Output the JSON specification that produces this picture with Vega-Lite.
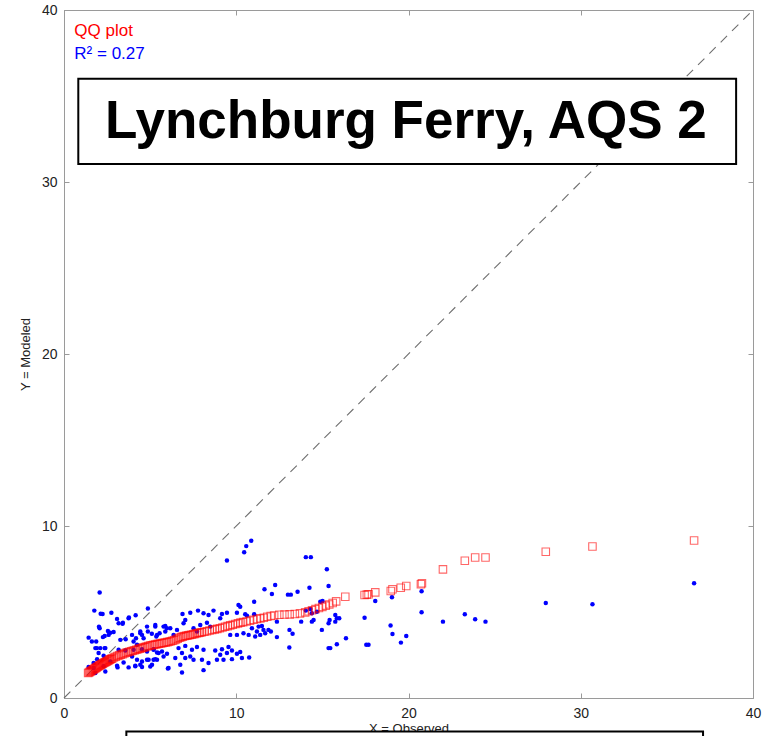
{
  "$schema": "https://vega.github.io/schema/vega-lite/v6.json",
  "width": 689,
  "height": 688,
  "autosize": {"type": "none"},
  "padding": {"left": 64, "top": 10, "right": 23, "bottom": 38},
  "background": "white",
  "config": {"view": {"stroke": "#9a9a9a", "strokeWidth": 1}, "font": "Liberation Sans"},
  "data": {"values": [{"note": "annotation"}]},
  "datasets": {
    "pairs": [
      {"observed":2.07,"modeled":6.14},{"observed":1.76,"modeled":5.08},{"observed":2.13,"modeled":4.9},{"observed":2.24,"modeled":4.89},{"observed":2.75,"modeled":4.96},{"observed":3.08,"modeled":4.6},{"observed":3.17,"modeled":4.35},{"observed":3.75,"modeled":4.64},{"observed":3.42,"modeled":4.38},{"observed":2.07,"modeled":4.06},{"observed":2.55,"modeled":3.9},{"observed":2.69,"modeled":3.8},{"observed":2.88,"modeled":3.84},{"observed":2.36,"modeled":3.61},{"observed":2.26,"modeled":3.54},{"observed":2.59,"modeled":3.67},{"observed":1.43,"modeled":3.51},{"observed":1.62,"modeled":3.28},{"observed":1.87,"modeled":3.28},{"observed":3.27,"modeled":3.38},{"observed":3.58,"modeled":3.42},{"observed":3.95,"modeled":3.67},{"observed":4.43,"modeled":3.86},{"observed":4.53,"modeled":3.67},{"observed":4.62,"modeled":3.48},{"observed":4.87,"modeled":3.86},{"observed":5.1,"modeled":3.73},{"observed":5.36,"modeled":3.57},{"observed":1.82,"modeled":2.9},{"observed":2.11,"modeled":2.9},{"observed":2.36,"modeled":2.9},{"observed":2.01,"modeled":2.61},{"observed":2.3,"modeled":2.45},{"observed":3.17,"modeled":2.8},{"observed":3.56,"modeled":2.76},{"observed":4.04,"modeled":2.8},{"observed":4.53,"modeled":2.84},{"observed":4.82,"modeled":2.7},{"observed":5.2,"modeled":2.8},{"observed":5.4,"modeled":2.64},{"observed":3.95,"modeled":2.41},{"observed":4.24,"modeled":2.22},{"observed":4.53,"modeled":2.12},{"observed":4.91,"modeled":2.22},{"observed":5.2,"modeled":2.22},{"observed":5.4,"modeled":2.22},{"observed":4.14,"modeled":1.87},{"observed":4.53,"modeled":1.8},{"observed":5.01,"modeled":1.83},{"observed":3.08,"modeled":1.87},{"observed":1.92,"modeled":2.26},{"observed":1.43,"modeled":1.8},{"observed":1.72,"modeled":1.74},{"observed":2.4,"modeled":1.54},{"observed":1.82,"modeled":1.45},
      {"observed":4.87,"modeled":5.2},{"observed":4.16,"modeled":4.81},{"observed":3.77,"modeled":4.68},{"observed":3.4,"modeled":4.31},{"observed":2.03,"modeled":4.14},
      {"observed":1.91,"modeled":2.9},{"observed":2.4,"modeled":2.9},{"observed":1.72,"modeled":2.03},{"observed":2.3,"modeled":1.84},{"observed":2.68,"modeled":2.13},{"observed":3.11,"modeled":1.78},{"observed":3.46,"modeled":2.07},{"observed":3.75,"modeled":1.78},{"observed":4.14,"modeled":1.84},{"observed":4.43,"modeled":1.93},{"observed":4.82,"modeled":2.22},{"observed":5.3,"modeled":2.26},{"observed":5.49,"modeled":2.61},{"observed":4.24,"modeled":3.09},{"observed":4.04,"modeled":3.28},{"observed":4.18,"modeled":3.48},{"observed":4.43,"modeled":3.77},{"observed":4.82,"modeled":4.15},{"observed":5.3,"modeled":4.15},{"observed":5.4,"modeled":3.67},{"observed":5.78,"modeled":4.15},{"observed":5.97,"modeled":4.06},{"observed":6.36,"modeled":3.67},{"observed":6.56,"modeled":3.96},
      {"observed":9.46,"modeled":8.0},{"observed":6.88,"modeled":4.89},{"observed":7.33,"modeled":4.96},{"observed":7.78,"modeled":5.08},{"observed":8.1,"modeled":4.93},{"observed":8.39,"modeled":4.83},{"observed":7.04,"modeled":4.54},{"observed":6.94,"modeled":4.35},{"observed":8.68,"modeled":5.08},{"observed":9.17,"modeled":4.89},{"observed":9.07,"modeled":4.64},{"observed":9.46,"modeled":4.96},{"observed":10.04,"modeled":4.96},{"observed":10.13,"modeled":5.41},{"observed":10.23,"modeled":5.31},{"observed":10.52,"modeled":4.87},{"observed":5.3,"modeled":4.25},{"observed":5.88,"modeled":4.19},{"observed":6.17,"modeled":4.06},{"observed":5.88,"modeled":3.86},{"observed":5.55,"modeled":3.77},{"observed":7.52,"modeled":4.06},{"observed":7.91,"modeled":4.25},{"observed":8.3,"modeled":4.38},{"observed":8.49,"modeled":4.15},{"observed":7.72,"modeled":3.86},{"observed":9.65,"modeled":3.67},{"observed":10.42,"modeled":3.77},{"observed":10.04,"modeled":3.67},{"observed":5.2,"modeled":2.84},{"observed":5.69,"modeled":2.7},{"observed":5.98,"modeled":2.57},{"observed":5.78,"modeled":2.41},{"observed":6.65,"modeled":2.9},{"observed":7.04,"modeled":3.03},{"observed":7.43,"modeled":2.8},{"observed":7.72,"modeled":2.96},{"observed":8.1,"modeled":2.8},{"observed":7.04,"modeled":2.32},{"observed":6.85,"modeled":2.61},{"observed":7.33,"modeled":2.41},{"observed":6.46,"modeled":2.32},{"observed":7.52,"modeled":2.22},{"observed":8.01,"modeled":2.22},{"observed":8.39,"modeled":2.03},{"observed":8.78,"modeled":2.76},{"observed":9.17,"modeled":2.84},{"observed":9.55,"modeled":2.96},{"observed":9.75,"modeled":2.76},{"observed":9.07,"modeled":2.51},{"observed":9.46,"modeled":2.61},{"observed":10.04,"modeled":2.57},{"observed":9.26,"modeled":2.22},{"observed":9.75,"modeled":2.26},{"observed":10.33,"modeled":2.32},{"observed":8.88,"modeled":2.22},{"observed":6.07,"modeled":1.74},{"observed":6.75,"modeled":1.93},{"observed":6.85,"modeled":1.48},{"observed":8.1,"modeled":1.62},{"observed":5.11,"modeled":1.93},{"observed":6.03,"modeled":1.72},{"observed":11.04,"modeled":5.6},
      {"observed":10.87,"modeled":9.14},{"observed":10.58,"modeled":8.83},{"observed":10.46,"modeled":8.48},{"observed":14.04,"modeled":8.19},{"observed":14.33,"modeled":8.19},{"observed":15.26,"modeled":7.48},{"observed":12.26,"modeled":6.57},{"observed":11.64,"modeled":6.32},{"observed":12.07,"modeled":6.05},{"observed":13.0,"modeled":6.01},{"observed":13.17,"modeled":6.01},{"observed":13.56,"modeled":6.18},{"observed":14.25,"modeled":6.41},{"observed":15.36,"modeled":6.51},{"observed":14.88,"modeled":5.6},{"observed":15.01,"modeled":5.64},{"observed":11.04,"modeled":4.87},{"observed":10.62,"modeled":4.79},{"observed":14.04,"modeled":5.08},{"observed":14.3,"modeled":5.18},{"observed":14.39,"modeled":4.93},{"observed":14.49,"modeled":4.54},{"observed":14.39,"modeled":4.44},{"observed":14.68,"modeled":5.02},{"observed":15.75,"modeled":4.83},{"observed":15.84,"modeled":4.64},{"observed":15.36,"modeled":4.35},{"observed":15.42,"modeled":4.54},{"observed":14.97,"modeled":3.96},{"observed":13.77,"modeled":4.44},{"observed":12.36,"modeled":4.44},{"observed":11.3,"modeled":4.15},{"observed":11.49,"modeled":4.19},{"observed":11.58,"modeled":3.96},{"observed":11.2,"modeled":3.86},{"observed":11.39,"modeled":3.67},{"observed":11.87,"modeled":3.96},{"observed":12.01,"modeled":3.86},{"observed":12.36,"modeled":3.54},{"observed":11.68,"modeled":3.77},{"observed":10.91,"modeled":4.06},{"observed":10.72,"modeled":3.67},{"observed":11.1,"modeled":3.57},{"observed":13.09,"modeled":3.96},{"observed":13.27,"modeled":3.73},{"observed":13.08,"modeled":2.93},{"observed":15.36,"modeled":2.9},{"observed":15.84,"modeled":3.13},{"observed":10.75,"modeled":2.35},{"observed":10.23,"modeled":2.67},{"observed":15.98,"modeled":4.64},{"observed":15.75,"modeled":4.44},{"observed":16.37,"modeled":3.48},{"observed":17.45,"modeled":4.67},{"observed":17.55,"modeled":3.1},{"observed":17.68,"modeled":3.1},{"observed":15.46,"modeled":2.9},
      {"observed":18.07,"modeled":5.64},{"observed":19.04,"modeled":5.86},{"observed":20.76,"modeled":6.2},{"observed":20.76,"modeled":4.98},{"observed":18.96,"modeled":4.21},{"observed":19.07,"modeled":3.72},{"observed":19.87,"modeled":3.61},{"observed":19.56,"modeled":3.22},{"observed":22.0,"modeled":4.44},{"observed":23.27,"modeled":4.87},{"observed":23.87,"modeled":4.58},{"observed":24.47,"modeled":4.44},{"observed":27.97,"modeled":5.52},{"observed":30.68,"modeled":5.45},{"observed":36.58,"modeled":6.67}
    ],
    "qq": [
      {"observed":1.4,"modeled":1.45},{"observed":1.45,"modeled":1.48},{"observed":1.5,"modeled":1.52},{"observed":1.55,"modeled":1.55},{"observed":1.6,"modeled":1.58},{"observed":1.65,"modeled":1.62},{"observed":1.7,"modeled":1.65},{"observed":1.75,"modeled":1.69},{"observed":1.8,"modeled":1.72},{"observed":1.85,"modeled":1.75},{"observed":1.9,"modeled":1.78},{"observed":1.95,"modeled":1.82},{"observed":2.0,"modeled":1.85},{"observed":2.05,"modeled":1.88},{"observed":2.1,"modeled":1.91},{"observed":2.15,"modeled":1.94},{"observed":2.2,"modeled":1.97},{"observed":2.25,"modeled":2.0},{"observed":2.3,"modeled":2.03},{"observed":2.35,"modeled":2.06},{"observed":2.4,"modeled":2.08},{"observed":2.45,"modeled":2.11},{"observed":2.5,"modeled":2.14},{"observed":2.55,"modeled":2.17},{"observed":2.6,"modeled":2.2},{"observed":2.65,"modeled":2.23},{"observed":2.7,"modeled":2.25},{"observed":2.75,"modeled":2.28},{"observed":2.8,"modeled":2.3},{"observed":2.9,"modeled":2.35},{"observed":3.0,"modeled":2.4},{"observed":3.1,"modeled":2.44},{"observed":3.2,"modeled":2.48},{"observed":3.3,"modeled":2.52},{"observed":3.4,"modeled":2.55},{"observed":3.5,"modeled":2.59},{"observed":3.6,"modeled":2.63},{"observed":3.7,"modeled":2.66},{"observed":3.8,"modeled":2.69},{"observed":3.9,"modeled":2.72},{"observed":4.0,"modeled":2.75},{"observed":4.1,"modeled":2.78},{"observed":4.2,"modeled":2.81},{"observed":4.3,"modeled":2.84},{"observed":4.4,"modeled":2.87},{"observed":4.5,"modeled":2.9},{"observed":4.6,"modeled":2.93},{"observed":4.7,"modeled":2.96},{"observed":4.8,"modeled":2.99},{"observed":4.9,"modeled":3.02},{"observed":5.0,"modeled":3.05},{"observed":5.1,"modeled":3.07},{"observed":5.2,"modeled":3.09},{"observed":5.3,"modeled":3.11},{"observed":5.4,"modeled":3.13},{"observed":5.5,"modeled":3.15},{"observed":5.6,"modeled":3.17},{"observed":5.7,"modeled":3.19},{"observed":5.8,"modeled":3.21},{"observed":5.9,"modeled":3.23},{"observed":6.0,"modeled":3.25},{"observed":6.1,"modeled":3.27},{"observed":6.2,"modeled":3.3},{"observed":6.3,"modeled":3.33},{"observed":6.4,"modeled":3.36},{"observed":6.5,"modeled":3.4},{"observed":6.6,"modeled":3.45},{"observed":6.7,"modeled":3.5},{"observed":6.8,"modeled":3.54},{"observed":6.9,"modeled":3.57},{"observed":7.0,"modeled":3.6},{"observed":7.1,"modeled":3.62},{"observed":7.2,"modeled":3.64},{"observed":7.3,"modeled":3.66},{"observed":7.4,"modeled":3.68},{"observed":7.5,"modeled":3.71},{"observed":7.6,"modeled":3.73},{"observed":7.7,"modeled":3.76},{"observed":7.8,"modeled":3.78},{"observed":7.9,"modeled":3.8},{"observed":8.0,"modeled":3.82},{"observed":8.15,"modeled":3.85},{"observed":8.3,"modeled":3.88},{"observed":8.45,"modeled":3.92},{"observed":8.6,"modeled":3.95},{"observed":8.75,"modeled":3.99},{"observed":8.9,"modeled":4.02},{"observed":9.05,"modeled":4.06},{"observed":9.2,"modeled":4.1},{"observed":9.35,"modeled":4.14},{"observed":9.5,"modeled":4.18},{"observed":9.65,"modeled":4.22},{"observed":9.8,"modeled":4.26},{"observed":9.95,"modeled":4.3},{"observed":10.1,"modeled":4.34},{"observed":10.25,"modeled":4.38},{"observed":10.4,"modeled":4.41},{"observed":10.6,"modeled":4.45},{"observed":10.8,"modeled":4.5},{"observed":11.0,"modeled":4.55},{"observed":11.2,"modeled":4.59},{"observed":11.4,"modeled":4.63},{"observed":11.6,"modeled":4.67},{"observed":11.8,"modeled":4.72},{"observed":12.0,"modeled":4.77},{"observed":12.2,"modeled":4.8},{"observed":12.5,"modeled":4.84},{"observed":12.8,"modeled":4.85},{"observed":13.1,"modeled":4.86},{"observed":13.4,"modeled":4.88},{"observed":13.7,"modeled":4.92},{"observed":14.0,"modeled":4.98},{"observed":14.2,"modeled":5.04},{"observed":14.4,"modeled":5.1},{"observed":14.6,"modeled":5.17},{"observed":14.8,"modeled":5.23},{"observed":15.0,"modeled":5.3},{"observed":15.2,"modeled":5.37},{"observed":15.4,"modeled":5.44},{"observed":15.6,"modeled":5.52},{"observed":15.8,"modeled":5.62},{"observed":16.33,"modeled":5.89},{"observed":17.45,"modeled":5.99},{"observed":17.58,"modeled":6.01},{"observed":17.68,"modeled":6.03},{"observed":18.07,"modeled":6.14},{"observed":18.97,"modeled":6.22},{"observed":19.07,"modeled":6.32},{"observed":19.55,"modeled":6.41},{"observed":19.87,"modeled":6.51},{"observed":20.72,"modeled":6.61},{"observed":20.78,"modeled":6.67},{"observed":22.0,"modeled":7.48},{"observed":23.27,"modeled":7.98},{"observed":23.87,"modeled":8.17},{"observed":24.47,"modeled":8.17},{"observed":27.97,"modeled":8.5},{"observed":30.68,"modeled":8.81},{"observed":36.58,"modeled":9.16}
    ]
  },
  "layer": [
    {
      "mark": {"type": "rule", "stroke": "#6e6e6e", "strokeWidth": 1.1, "strokeDash": [9, 7]},
      "encoding": {
        "x": {"datum": 0, "type": "quantitative", "scale": {"domain": [0, 40], "nice": false}, "axis": null},
        "y": {"datum": 0, "type": "quantitative", "scale": {"domain": [0, 40], "nice": false}, "axis": null},
        "x2": {"datum": 40},
        "y2": {"datum": 40}
      }
    },
    {
      "data": {"name": "pairs"},
      "mark": {"type": "circle", "size": 20, "color": "#0000ff", "opacity": 1},
      "encoding": {
        "x": {"field": "observed", "type": "quantitative", "scale": {"domain": [0, 40], "nice": false},
          "axis": {"orient": "bottom", "values": [0, 10, 20, 30, 40], "grid": false, "tickSize": -5, "domainColor": "#9a9a9a", "tickColor": "#9a9a9a", "labelFont": "Liberation Sans", "labelFontSize": 14, "labelColor": "#222222", "labelPadding": 13, "labelFlush": false, "labelOverlap": false, "title": "X = Observed", "titleFont": "Liberation Sans", "titleFontSize": 13, "titleFontWeight": "normal", "titleColor": "#222222", "titleX": 344.5, "titleY": 30.5, "titleBaseline": "middle", "titleAlign": "center", "titleAnchor": null}},
        "y": {"field": "modeled", "type": "quantitative", "scale": {"domain": [0, 40], "nice": false},
          "axis": {"orient": "left", "values": [0, 10, 20, 30, 40], "grid": false, "tickSize": -5, "domainColor": "#9a9a9a", "tickColor": "#9a9a9a", "labelFont": "Liberation Sans", "labelFontSize": 14, "labelColor": "#222222", "labelPadding": 12, "labelFlush": false, "labelOverlap": false, "title": "Y = Modeled", "titleFont": "Liberation Sans", "titleFontSize": 13, "titleFontWeight": "normal", "titleColor": "#222222", "titleX": -39, "titleY": 344, "titleAngle": 270, "titleBaseline": "middle", "titleAlign": "center", "titleAnchor": null}}
      }
    },
    {
      "data": {"name": "qq"},
      "mark": {"type": "point", "shape": "square", "filled": false, "size": 56, "stroke": "#ff0000", "strokeOpacity": 0.85, "strokeWidth": 1.1},
      "encoding": {
        "x": {"field": "observed", "type": "quantitative", "scale": {"domain": [0, 40], "nice": false},
          "axis": {"orient": "top", "values": [0, 10, 20, 30, 40], "grid": false, "tickSize": -5, "labels": false, "domainColor": "#9a9a9a", "tickColor": "#9a9a9a", "title": null}},
        "y": {"field": "modeled", "type": "quantitative", "scale": {"domain": [0, 40], "nice": false},
          "axis": {"orient": "right", "values": [0, 10, 20, 30, 40], "grid": false, "tickSize": -5, "labels": false, "domainColor": "#9a9a9a", "tickColor": "#9a9a9a", "title": null}}
      }
    },
    {
      "mark": {"type": "rect", "fill": "white", "stroke": "black", "strokeWidth": 2},
      "encoding": {
        "x": {"datum": 0.83, "type": "quantitative", "axis": null},
        "x2": {"datum": 39.02},
        "y": {"datum": 36.0, "type": "quantitative", "axis": null},
        "y2": {"datum": 31.05}
      }
    },
    {
      "mark": {"type": "text", "text": "Lynchburg Ferry, AQS 2", "font": "Liberation Sans", "fontWeight": "bold", "fontSize": 53, "align": "center", "baseline": "middle", "color": "black"},
      "encoding": {
        "x": {"datum": 19.85, "type": "quantitative", "axis": null},
        "y": {"datum": 33.5, "type": "quantitative", "axis": null}
      }
    },
    {
      "mark": {"type": "text", "text": "QQ plot", "font": "Liberation Sans", "fontSize": 17, "align": "left", "baseline": "middle", "color": "#ff0000"},
      "encoding": {
        "x": {"datum": 0.6, "type": "quantitative", "axis": null},
        "y": {"datum": 38.8, "type": "quantitative", "axis": null}
      }
    },
    {
      "mark": {"type": "text", "text": "R² = 0.27", "font": "Liberation Sans", "fontSize": 17, "align": "left", "baseline": "middle", "color": "#0000ff"},
      "encoding": {
        "x": {"datum": 0.6, "type": "quantitative", "axis": null},
        "y": {"datum": 37.42, "type": "quantitative", "axis": null}
      }
    },
    {
      "mark": {"type": "rect", "fill": "white", "stroke": "black", "strokeWidth": 2},
      "encoding": {
        "x": {"datum": 3.62, "type": "quantitative", "axis": null},
        "x2": {"datum": 37.1},
        "y": {"datum": -1.95, "type": "quantitative", "axis": null},
        "y2": {"datum": -6}
      }
    }
  ],
  "resolve": {"axis": {"x": "independent", "y": "independent"}}
}
